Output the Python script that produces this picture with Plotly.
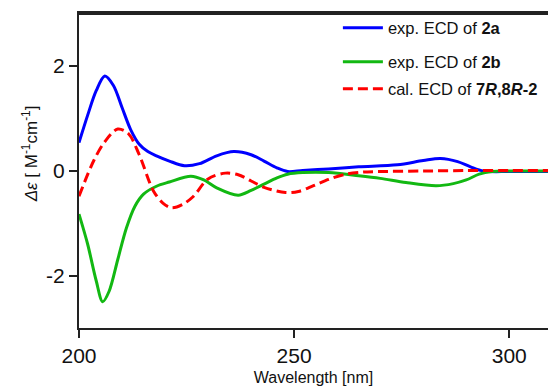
import plotly.graph_objects as go

# Wavelength (nm) and Δε values
wl_2a = [200, 202, 204, 206, 208, 210, 212, 214, 216, 218, 221, 224.5, 228, 232, 236, 240, 243, 246,
         248.5, 252, 258, 265, 274, 280, 284, 288, 291, 294, 300, 309]
de_2a = [0.53, 1.05, 1.52, 1.80, 1.62, 1.2, 0.78, 0.5, 0.36, 0.28, 0.18, 0.09, 0.13, 0.28, 0.36, 0.30,
         0.18, 0.05, -0.02, 0.0, 0.03, 0.07, 0.11, 0.19, 0.23, 0.17, 0.07, -0.01, -0.02, -0.02]

wl_2b = [200, 202, 204, 205.5, 207, 209, 211, 213, 215, 218, 221, 226, 229, 232, 237, 240, 243, 246,
         248.5, 252, 258, 265, 270, 276, 283, 287, 290, 293, 296, 300, 309]
de_2b = [-0.83, -1.4, -2.1, -2.5, -2.3, -1.7, -1.1, -0.68, -0.45, -0.30, -0.22, -0.11, -0.18, -0.33,
         -0.47, -0.38, -0.26, -0.14, -0.07, -0.04, -0.04, -0.1, -0.15, -0.23, -0.29, -0.25, -0.18,
         -0.07, -0.02, -0.01, -0.01]

wl_cal = [200, 203.5, 206, 209, 211.5, 214, 217.3, 219.5, 221.5, 224, 226.5, 230, 234, 237, 240, 243,
          248, 251, 254.5, 258, 262, 266, 270, 280, 290, 300, 309]
de_cal = [-0.49, 0.2, 0.55, 0.79, 0.7, 0.3, -0.39, -0.62, -0.71, -0.65, -0.5, -0.16, -0.05, -0.08, -0.2,
          -0.32, -0.42, -0.40, -0.29, -0.17, -0.07, -0.03, -0.02, -0.01, 0.0, 0.0, 0.0]

x_ticks = [200, 250, 300]
y_ticks = [-2, 0, 2]
y_ticktext = ["-2", "0", "2"]

names = ["exp. ECD of <b>2a</b>", "exp. ECD of <b>2b</b>",
         "cal. ECD of <b>7<i>R</i>,8<i>R</i>-2</b>"]
y_title = "<i>Δε</i> [ M<sup>-1</sup>cm<sup>-1</sup>]"

FONT = "Liberation Sans, Arial"

fig = go.Figure()
fig.add_trace(go.Scatter(x=wl_2a, y=de_2a, mode="lines", name=names[0], legend="legend",
                         line=dict(color="#0000ff", width=3, shape="spline", smoothing=0.9)))
fig.add_trace(go.Scatter(x=wl_2b, y=de_2b, mode="lines", name=names[1], legend="legend2",
                         line=dict(color="#12b812", width=3, shape="spline", smoothing=0.9)))
fig.add_trace(go.Scatter(x=wl_cal, y=de_cal, mode="lines", name=names[2], legend="legend3",
                         line=dict(color="#ff0000", width=3, shape="spline", smoothing=0.9,
                                   dash="10px,5px")))

axis_common = dict(showline=True, linecolor="#222222", linewidth=2, ticks="outside",
                   ticklen=8, tickwidth=2, tickcolor="#222222", showgrid=False, zeroline=False,
                   automargin=False,
                   tickfont=dict(family=FONT, size=21, color="#111111"))

fig.update_xaxes(range=[200, 309], tickvals=x_ticks, mirror=True, **axis_common,
                 title=dict(text="Wavelength [nm]", standoff=6,
                            font=dict(family=FONT, size=16, color="#111111")))
fig.update_yaxes(range=[-3, 3], tickvals=y_ticks, ticktext=y_ticktext, **axis_common)

fig.add_annotation(text=y_title, textangle=-90, xref="paper", yref="paper",
                   x=-0.104, y=0.552, xanchor="center", yanchor="middle", showarrow=False,
                   font=dict(family=FONT, size=17, color="#111111"))

fig.add_shape(type="line", xref="paper", yref="paper", x0=0, x1=1, y0=0.998, y1=0.998,
              layer="above", line=dict(color="#222222", width=2.5))

leg_common = dict(x=0.552, xanchor="left", yanchor="middle", bgcolor="rgba(0,0,0,0)",
                  itemwidth=40, font=dict(family=FONT, size=16.5, color="#111111"))

fig.update_layout(
    width=548, height=389,
    margin=dict(l=79, r=0, t=13, b=61),
    plot_bgcolor="white", paper_bgcolor="white",
    showlegend=True,
    legend=dict(y=0.952, **leg_common),
    legend2=dict(y=0.844, **leg_common),
    legend3=dict(y=0.759, **leg_common),
)

fig.write_html("out.html", config={"displayModeBar": False},
               post_script="document.body.style.margin='0';")
